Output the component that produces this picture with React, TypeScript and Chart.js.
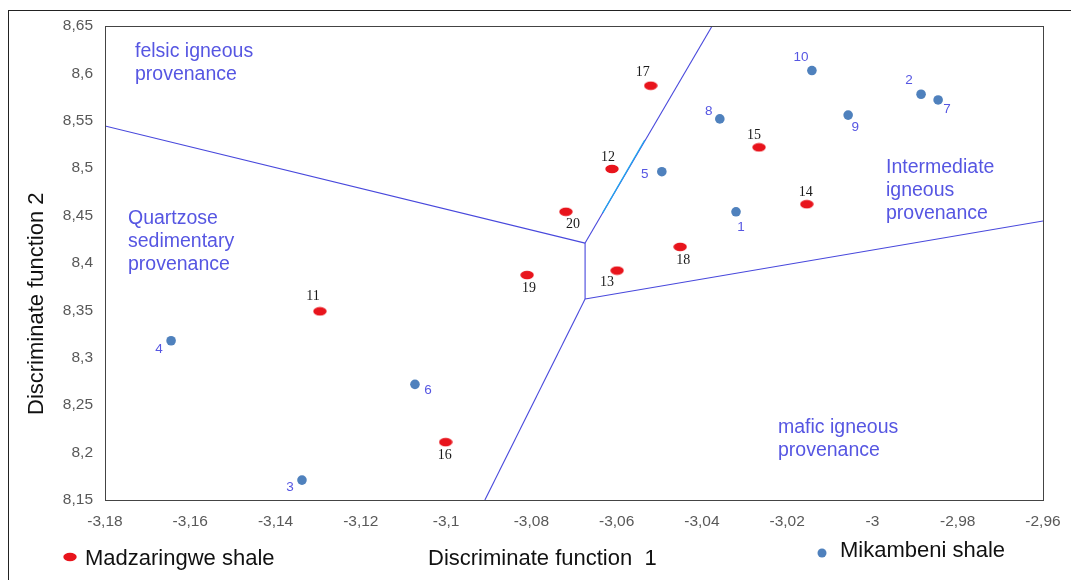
import React, { useEffect, useRef } from "react";
import { Chart, registerables } from "chart.js";

Chart.register(...registerables);

// Madzaringwe shale samples (11..20)
const madzLabels = ["11", "12", "13", "14", "15", "16", "17", "18", "19", "20"];
const madzX = [-3.1296, -3.0611, -3.0599, -3.0154, -3.0266, -3.1001, -3.052, -3.0451, -3.081, -3.0719];
const madzY = [8.349, 8.4992, 8.392, 8.462, 8.522, 8.211, 8.587, 8.417, 8.3873, 8.454];

// Mikambeni shale samples (1..10)
const mikLabels = ["1", "2", "3", "4", "5", "6", "7", "8", "9", "10"];
const mikX = [-3.032, -2.9886, -3.1338, -3.1645, -3.0494, -3.1073, -2.9846, -3.0358, -3.0057, -3.0142];
const mikY = [8.454, 8.578, 8.171, 8.318, 8.4963, 8.272, 8.572, 8.552, 8.556, 8.603];

// Field boundary lines (each [x1, y1, x2, y2])
const boundaryA = [-3.18, 8.5445, -3.0674, 8.421];
const boundaryB = [-3.0674, 8.421, -3.0376, 8.65];
const boundaryC = [-3.0674, 8.421, -3.0674, 8.362];
const boundaryD = [-3.0674, 8.362, -2.96, 8.4443];
const boundaryE = [-3.0674, 8.362, -3.0909, 8.15];
const highlightSeg = [-3.0633, 8.4527, -3.0534, 8.5297];

// Tick values
const xTickValues = [-3.18, -3.16, -3.14, -3.12, -3.1, -3.08, -3.06, -3.04, -3.02, -3, -2.98, -2.96];
const yTickValues = [8.15, 8.2, 8.25, 8.3, 8.35, 8.4, 8.45, 8.5, 8.55, 8.6, 8.65];

// Text
const xTitle = "Discriminate function  1";
const yTitle = "Discriminate function 2";
const legendMadz = "Madzaringwe shale";
const legendMik = "Mikambeni shale";
const regionFelsic = ["felsic igneous", "provenance"];
const regionQuartz = ["Quartzose", "sedimentary", "provenance"];
const regionInter = ["Intermediate", "igneous", "provenance"];
const regionMafic = ["mafic igneous", "provenance"];

// Label offsets (pixels) for point numbers
const mikLabelOffsets = [[5, 15], [-12, -14], [-12, 7], [-12, 9], [-17, 3], [13, 6], [9, 9], [-11, -8], [7, 12], [-11, -13]];
const madzLabelOffsets = [[-7, -15], [-4, -12], [-10, 12], [-1, -12], [-5, -12], [-1, 13], [-8, -13], [3, 13], [2, 13], [7, 13]];

const RED = "#e8141c";
const BLUE_PT = "#4f81bd";
const LINE = "#4848dc";
const TEXT_BLUE = "#5656e2";

function makeEllipse(): HTMLCanvasElement {
  const c = document.createElement("canvas");
  c.width = 14;
  c.height = 10;
  const ctx = c.getContext("2d")!;
  ctx.fillStyle = RED;
  ctx.beginPath();
  ctx.ellipse(7, 5, 6.7, 4.2, 0, 0, Math.PI * 2);
  ctx.fill();
  return c;
}

function seg(s: number[]) {
  return [{ x: s[0], y: s[1] }, { x: s[2], y: s[3] }];
}

function fmt(v: number) {
  return String(Number(v.toFixed(2))).replace(".", ",");
}

export default function App() {
  const ref = useRef<HTMLCanvasElement>(null);
  useEffect(() => {
    const canvas = ref.current!;
    const ellipse = makeEllipse();
    const lineDs = (s: number[], color = LINE) => ({
      type: "scatter" as const,
      data: seg(s),
      showLine: true,
      borderColor: color,
      borderWidth: 1.1,
      pointRadius: 0,
      pointHoverRadius: 0,
      fill: false,
      order: 5,
    });
    const overlay = {
      id: "overlay",
      beforeDraw(chart: any) {
        const ctx = chart.ctx;
        ctx.save();
        ctx.fillStyle = "#ffffff";
        ctx.fillRect(0, 0, chart.width, chart.height);
        ctx.restore();
      },
      afterDatasetsDraw(chart: any) {
        const ctx = chart.ctx;
        const xs = chart.scales.x;
        const ys = chart.scales.y;
        const a = chart.chartArea;
        ctx.save();
        // frames
        ctx.strokeStyle = "#222";
        ctx.lineWidth = 1;
        ctx.strokeRect(8.5, 10.5, 3000, 3000);
        ctx.strokeStyle = "#444";
        ctx.strokeRect(Math.round(a.left) + 0.5, Math.round(a.top) + 0.5, Math.round(a.right - a.left), Math.round(a.bottom - a.top));

        // point labels
        ctx.textAlign = "center";
        ctx.textBaseline = "middle";
        ctx.font = "13.5px 'Liberation Sans', Arial, sans-serif";
        ctx.fillStyle = TEXT_BLUE;
        mikLabels.forEach((l, i) => {
          const px = xs.getPixelForValue(mikX[i]);
          const py = ys.getPixelForValue(mikY[i]);
          ctx.fillText(l, px + mikLabelOffsets[i][0], py + mikLabelOffsets[i][1]);
        });
        ctx.font = "14px 'Liberation Serif', 'Times New Roman', serif";
        ctx.fillStyle = "#1a1a1a";
        madzLabels.forEach((l, i) => {
          const px = xs.getPixelForValue(madzX[i]);
          const py = ys.getPixelForValue(madzY[i]);
          ctx.fillText(l, px + madzLabelOffsets[i][0], py + madzLabelOffsets[i][1]);
        });

        // region labels
        ctx.textAlign = "left";
        ctx.textBaseline = "alphabetic";
        ctx.font = "19.5px 'Liberation Sans', Arial, sans-serif";
        ctx.fillStyle = TEXT_BLUE;
        const block = (lines: string[], x: number, y: number) => {
          lines.forEach((t, i) => ctx.fillText(t, x, y + i * 22.8));
        };
        block(regionFelsic, 135, 57);
        block(regionQuartz, 128, 224);
        block(regionInter, 886, 173);
        block(regionMafic, 778, 433);

        // axis titles
        ctx.fillStyle = "#111";
        ctx.font = "22px 'Liberation Sans', Arial, sans-serif";
        ctx.fillText(xTitle, 428, 565);
        ctx.save();
        ctx.translate(43, 415);
        ctx.rotate(-Math.PI / 2);
        ctx.fillText(yTitle, 0, 0);
        ctx.restore();

        // legend
        ctx.drawImage(ellipse, 70 - 7, 557 - 5);
        ctx.fillText(legendMadz, 85, 565);
        ctx.fillStyle = BLUE_PT;
        ctx.beginPath();
        ctx.arc(822, 553, 4.5, 0, Math.PI * 2);
        ctx.fill();
        ctx.fillStyle = "#111";
        ctx.fillText(legendMik, 840, 557);
        ctx.restore();
      },
    };

    const chart = new Chart(canvas, {
      type: "scatter",
      data: {
        datasets: [
          {
            label: legendMadz,
            data: madzX.map((x, i) => ({ x, y: madzY[i] })),
            pointStyle: ellipse as any,
            backgroundColor: RED,
            borderColor: RED,
            order: 1,
          },
          {
            label: legendMik,
            data: mikX.map((x, i) => ({ x, y: mikY[i] })),
            pointStyle: "circle",
            pointRadius: 4.8,
            backgroundColor: BLUE_PT,
            borderColor: BLUE_PT,
            borderWidth: 0,
            order: 2,
          },
          lineDs(boundaryA),
          lineDs(boundaryB),
          lineDs(boundaryC),
          lineDs(boundaryD),
          lineDs(boundaryE),
          { ...lineDs(highlightSeg, "#1fa8ee"), order: 4, borderWidth: 1.3 },
        ] as any,
      },
      options: {
        animation: false,
        responsive: false,
        events: [],
        layout: { padding: { left: 0, top: 26, right: 28, bottom: 0 } },
        plugins: { legend: { display: false }, tooltip: { enabled: false } },
        scales: {
          x: {
            type: "linear",
            min: -3.18,
            max: -2.96,
            grid: { display: false, drawTicks: false },
            border: { display: false },
            afterFit: (s: any) => { s.height = 80; s.paddingLeft = 0; s.paddingRight = 0; },
            afterBuildTicks: (s: any) => { s.ticks = xTickValues.map((v) => ({ value: v })); },
            ticks: {
              padding: 12,
              maxRotation: 0,
              autoSkip: false,
              color: "#595959",
              font: { family: "'Liberation Sans', Arial, sans-serif", size: 15.5 },
              callback: (v: any) => fmt(Number(v)),
            },
          },
          y: {
            type: "linear",
            min: 8.15,
            max: 8.65,
            grid: { display: false, drawTicks: false },
            border: { display: false },
            afterFit: (s: any) => { s.width = 105; s.paddingTop = 0; s.paddingBottom = 0; },
            afterBuildTicks: (s: any) => { s.ticks = yTickValues.map((v) => ({ value: v })); },
            ticks: {
              padding: 12,
              autoSkip: false,
              color: "#595959",
              font: { family: "'Liberation Sans', Arial, sans-serif", size: 15.5 },
              callback: (v: any) => fmt(Number(v)),
            },
          },
        },
      },
      plugins: [overlay],
    } as any);
    return () => chart.destroy();
  }, []);

  return (
    <div style={{ position: "fixed", left: 0, top: 0, width: 1071, height: 580, overflow: "hidden", background: "#fff" }}>
      <canvas ref={ref} width={1071} height={580} style={{ width: 1071, height: 580, display: "block" }} />
    </div>
  );
}
